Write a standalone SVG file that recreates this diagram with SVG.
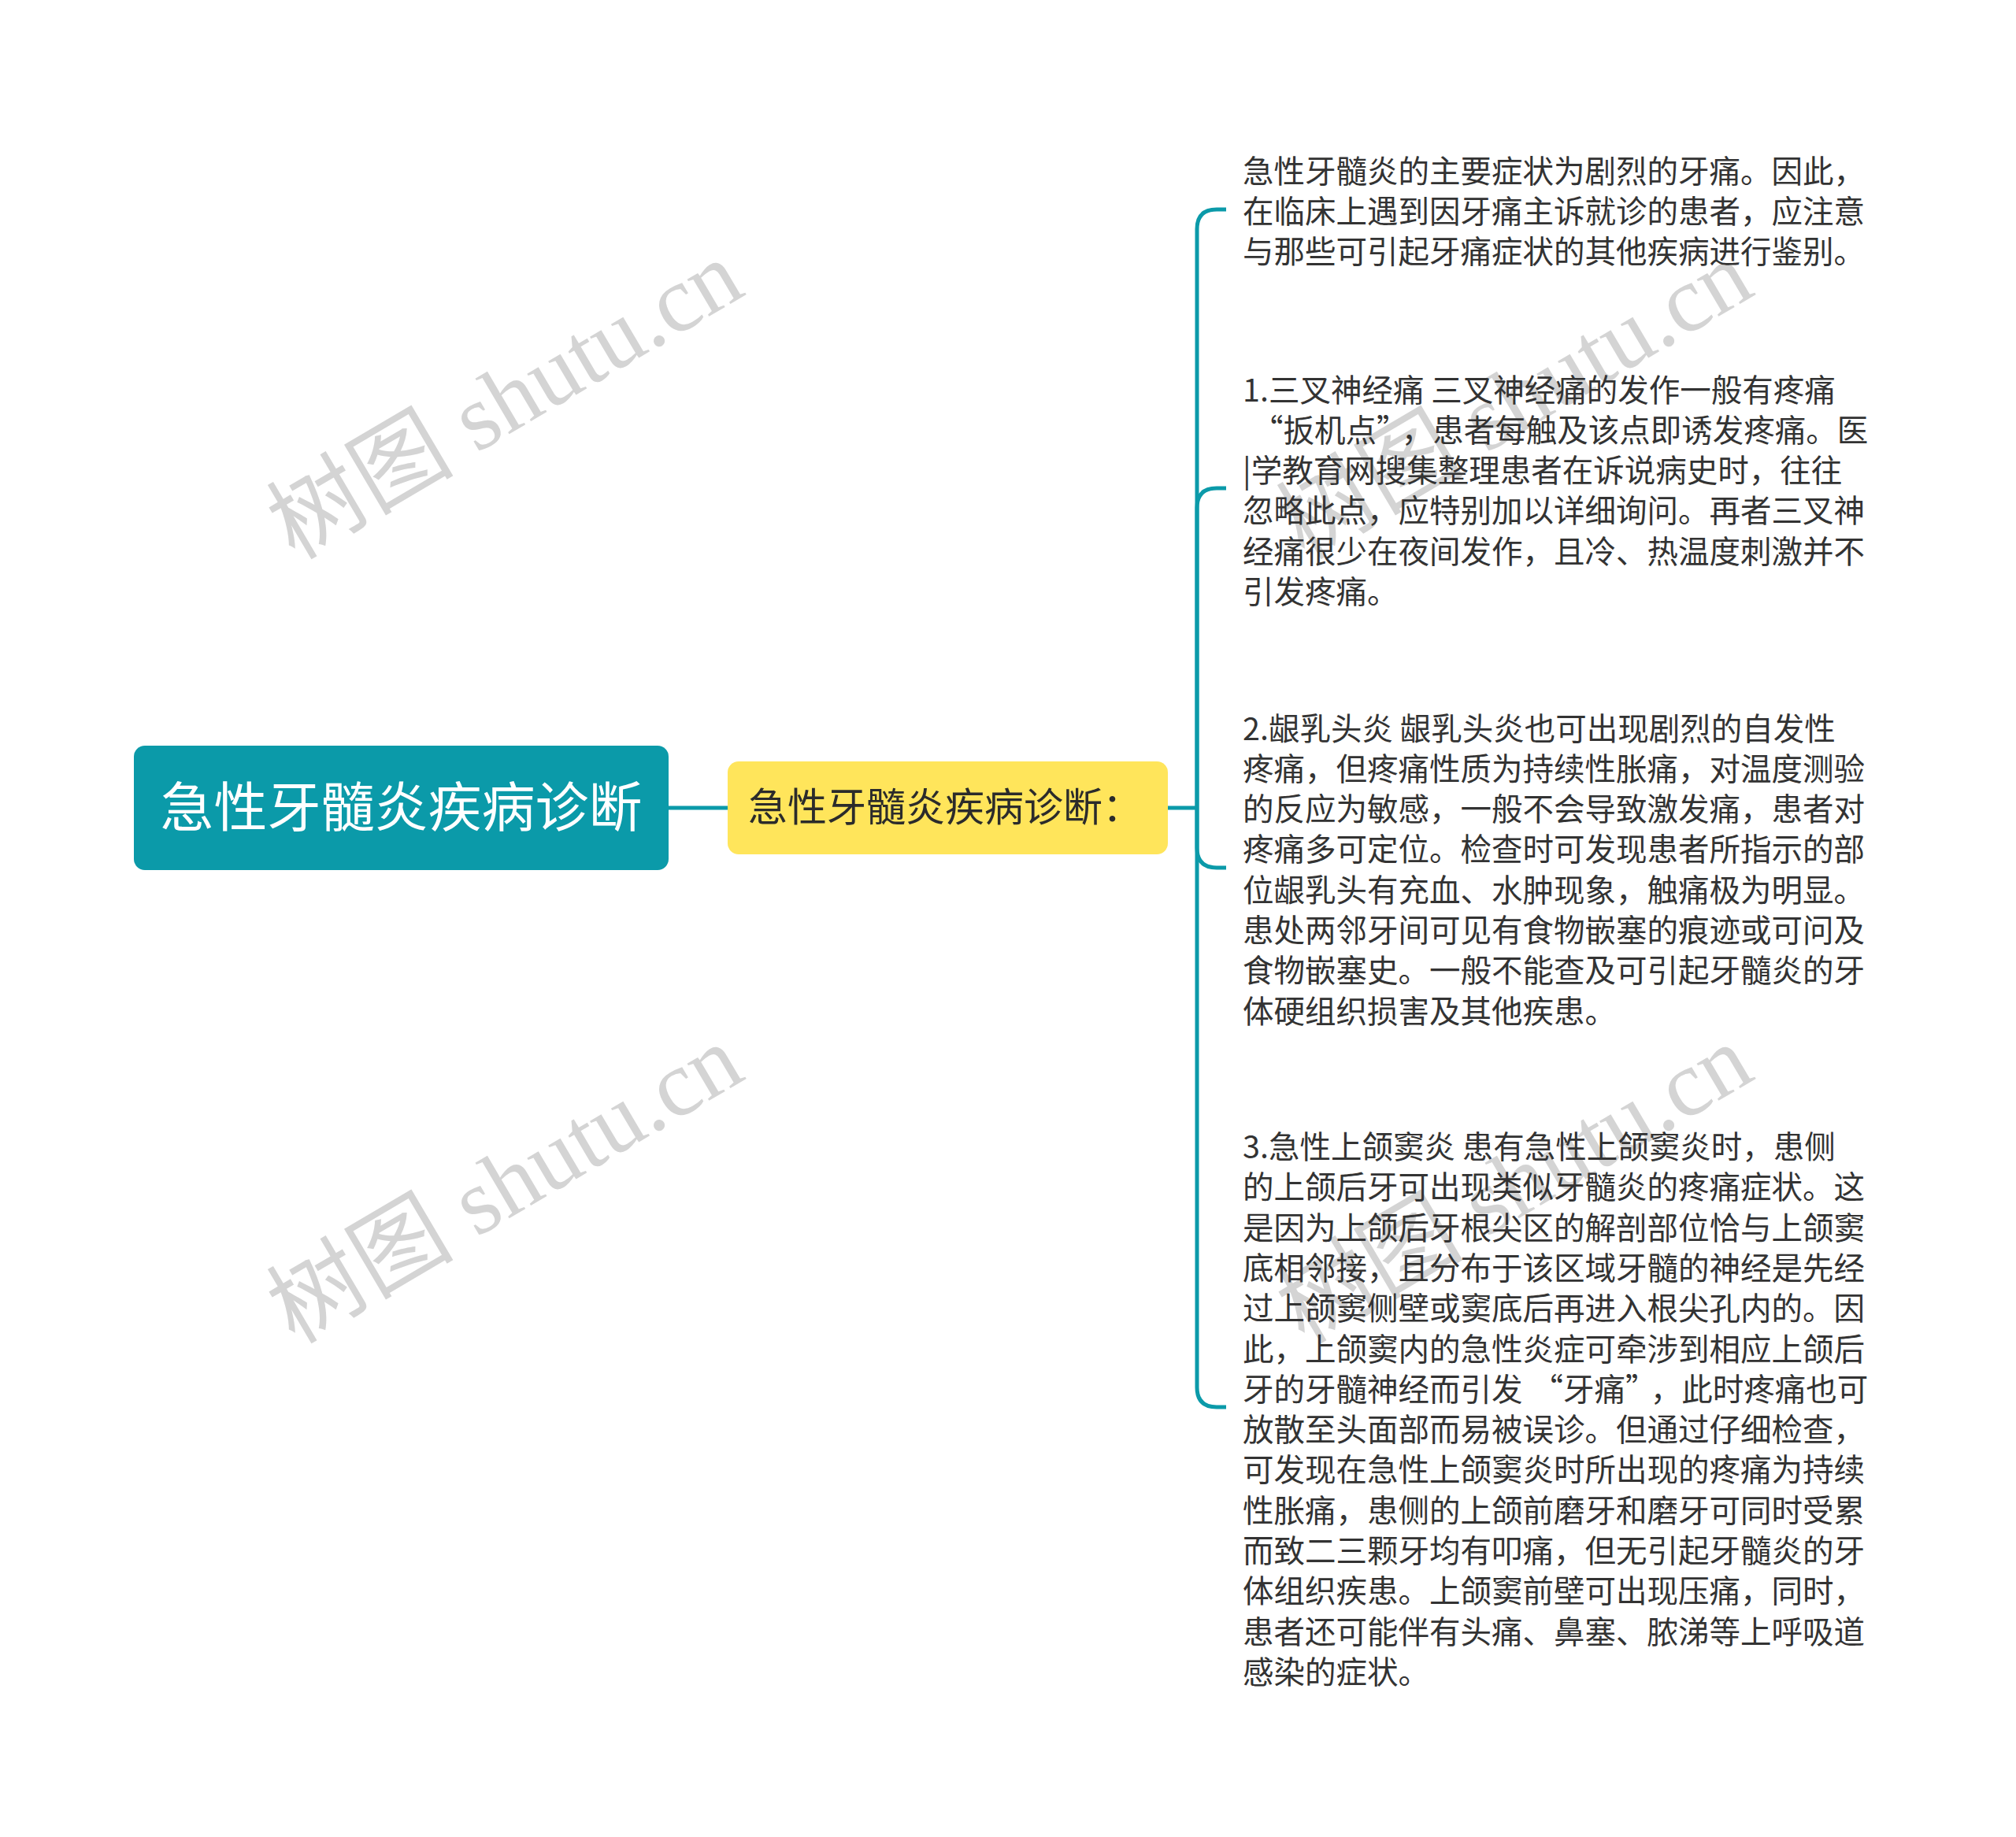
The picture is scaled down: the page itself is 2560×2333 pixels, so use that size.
<svg xmlns="http://www.w3.org/2000/svg" width="2560" height="2333" viewBox="0 0 2560 2333">
<style>
.wm{font-family:"Liberation Serif","Noto Sans CJK SC",serif;font-size:119px;fill:#d4d4d4}
.conn{fill:none;stroke:#0B9AA9;stroke-width:5}
.root-box{fill:#0B9AA9}
.root-txt{font-family:"Noto Sans CJK SC","Noto Sans",sans-serif;font-size:68px;fill:#ffffff;text-anchor:middle}
.mid-box{fill:#FFE55B}
.mid-txt{font-family:"Noto Sans CJK SC","Noto Sans",sans-serif;font-size:50px;fill:#2b2b2b}
.leaf{font-family:"Noto Sans CJK SC","Noto Sans",sans-serif;font-size:39.5px;fill:#333333}
</style>
<rect width="2560" height="2333" fill="#ffffff"/>
<g id="watermarks">
<text class="wm" transform="translate(374,712) rotate(-30.5)">树图 shutu.cn</text>
<text class="wm" transform="translate(374,1708) rotate(-30.5)">树图 shutu.cn</text>
<text class="wm" transform="translate(1656,712) rotate(-30.5)">树图 shutu.cn</text>
<text class="wm" transform="translate(1656,1708) rotate(-30.5)">树图 shutu.cn</text>
</g>
<g id="connectors">
<line class="conn" x1="849" y1="1026" x2="924" y2="1026"/>
<line class="conn" x1="1483" y1="1026" x2="1520" y2="1026"/>
<path class="conn" d="M1520,1026 V291 Q1520,266 1545,266 H1557"/>
<path class="conn" d="M1520,1026 V645 Q1520,620 1545,620 H1557"/>
<path class="conn" d="M1520,1026 V1077 Q1520,1102 1545,1102 H1557"/>
<path class="conn" d="M1520,1026 V1762 Q1520,1787 1545,1787 H1557"/>
</g>
<g id="root">
<rect class="root-box" x="170" y="947" width="679" height="158" rx="14"/>
<text class="root-txt" x="509.5" y="1050">急性牙髓炎疾病诊断</text>
</g>
<g id="mid">
<rect class="mid-box" x="924" y="967" width="559" height="118" rx="14"/>
<text class="mid-txt" x="950" y="1043">急性牙髓炎疾病诊断：</text>
</g>
<g id="leaf1">
<text class="leaf" x="1578">
<tspan x="1578" y="231.5">急性牙髓炎的主要症状为剧烈的牙痛。因此，</tspan>
<tspan x="1578" y="282.8">在临床上遇到因牙痛主诉就诊的患者，应注意</tspan>
<tspan x="1578" y="334.1">与那些可引起牙痛症状的其他疾病进行鉴别。</tspan>
</text>
</g>
<g id="leaf2">
<text class="leaf" x="1578">
<tspan x="1578" y="509.5">1.三叉神经痛 三叉神经痛的发作一般有疼痛</tspan>
<tspan x="1590" y="560.8">“扳机点”<tspan dx="12">，</tspan>患者每触及该点即诱发疼痛。医</tspan>
<tspan x="1578" y="612.1">|学教育网搜集整理患者在诉说病史时，往往</tspan>
<tspan x="1578" y="663.4">忽略此点，应特别加以详细询问。再者三叉神</tspan>
<tspan x="1578" y="714.7">经痛很少在夜间发作，且冷、热温度刺激并不</tspan>
<tspan x="1578" y="766">引发疼痛。</tspan>
</text>
</g>
<g id="leaf3">
<text class="leaf" x="1578">
<tspan x="1578" y="939.5">2.龈乳头炎 龈乳头炎也可出现剧烈的自发性</tspan>
<tspan x="1578" y="990.8">疼痛，但疼痛性质为持续性胀痛，对温度测验</tspan>
<tspan x="1578" y="1042.1">的反应为敏感，一般不会导致激发痛，患者对</tspan>
<tspan x="1578" y="1093.4">疼痛多可定位。检查时可发现患者所指示的部</tspan>
<tspan x="1578" y="1144.7">位龈乳头有充血、水肿现象，触痛极为明显。</tspan>
<tspan x="1578" y="1196">患处两邻牙间可见有食物嵌塞的痕迹或可问及</tspan>
<tspan x="1578" y="1247.3">食物嵌塞史。一般不能查及可引起牙髓炎的牙</tspan>
<tspan x="1578" y="1298.6">体硬组织损害及其他疾患。</tspan>
</text>
</g>
<g id="leaf4">
<text class="leaf" x="1578">
<tspan x="1578" y="1471">3.急性上颌窦炎 患有急性上颌窦炎时，患侧</tspan>
<tspan x="1578" y="1522.3">的上颌后牙可出现类似牙髓炎的疼痛症状。这</tspan>
<tspan x="1578" y="1573.6">是因为上颌后牙根尖区的解剖部位恰与上颌窦</tspan>
<tspan x="1578" y="1624.9">底相邻接，且分布于该区域牙髓的神经是先经</tspan>
<tspan x="1578" y="1676.2">过上颌窦侧壁或窦底后再进入根尖孔内的。因</tspan>
<tspan x="1578" y="1727.5">此，上颌窦内的急性炎症可牵涉到相应上颌后</tspan>
<tspan x="1578" y="1778.8">牙的牙髓神经而引发<tspan dx="12">“</tspan>牙痛”<tspan dx="12">，</tspan>此时疼痛也可</tspan>
<tspan x="1578" y="1830.1">放散至头面部而易被误诊。但通过仔细检查，</tspan>
<tspan x="1578" y="1881.4">可发现在急性上颌窦炎时所出现的疼痛为持续</tspan>
<tspan x="1578" y="1932.7">性胀痛，患侧的上颌前磨牙和磨牙可同时受累</tspan>
<tspan x="1578" y="1984">而致二三颗牙均有叩痛，但无引起牙髓炎的牙</tspan>
<tspan x="1578" y="2035.3">体组织疾患。上颌窦前壁可出现压痛，同时，</tspan>
<tspan x="1578" y="2086.6">患者还可能伴有头痛、鼻塞、脓涕等上呼吸道</tspan>
<tspan x="1578" y="2137.9">感染的症状。</tspan>
</text>
</g>
</svg>
